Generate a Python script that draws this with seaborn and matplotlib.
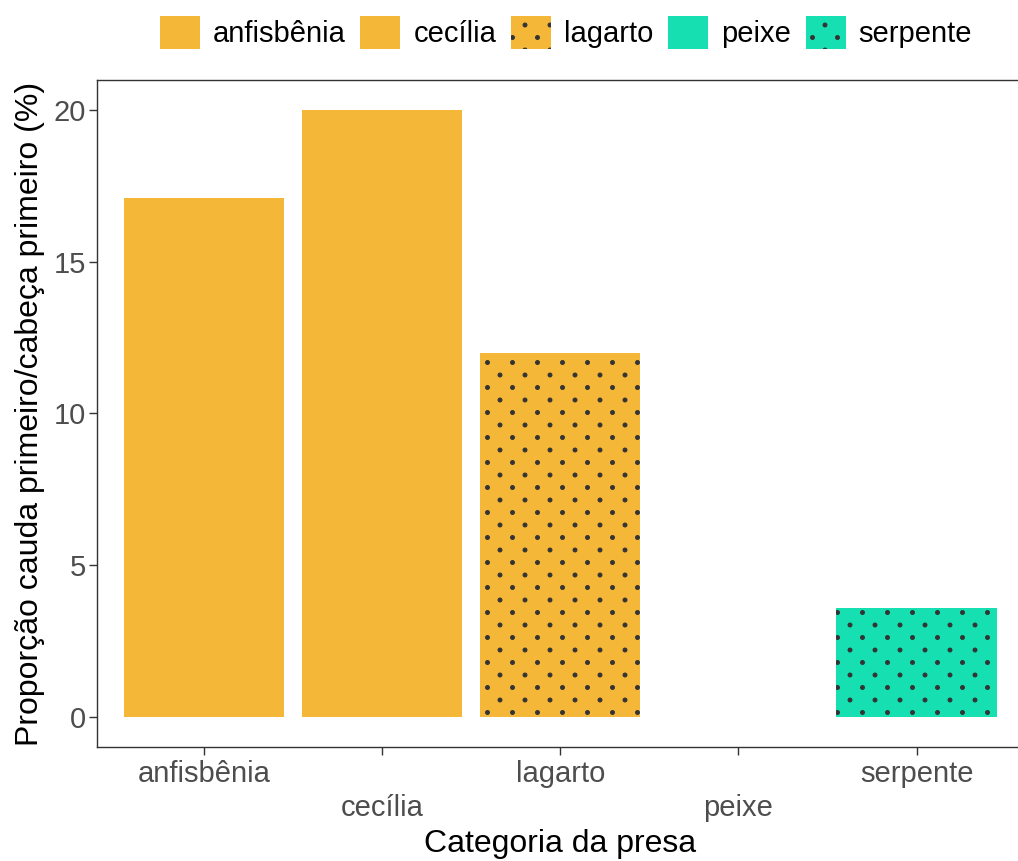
import matplotlib
matplotlib.use("Agg")
import matplotlib.pyplot as plt
import matplotlib.patches as mpatches
from matplotlib import hatch as mhatch
from matplotlib.path import Path
import numpy as np
import pandas as pd
import seaborn as sns

# data
categorias = ["anfisbênia", "cecília", "lagarto", "peixe", "serpente"]
proporcao = [17.1, 20.0, 12.0, 0.0, 3.6]
cores = ["#F5B738", "#F5B738", "#F5B738", "#16E0B2", "#16E0B2"]
pontilhado = [False, False, True, False, True]


class PontosAlternados(mhatch.HatchPatternBase):
    """Dot texture like ggpattern's 'circle': sparse columns, rows offset by half."""
    n_cols = 4
    n_rows = 8
    raio = 0.019

    def __init__(self, hatch, density):
        self.ativo = "." in hatch
        circ = Path.unit_circle()
        self.shape_vertices = circ.vertices
        self.shape_codes = circ.codes
        n_shapes = (self.n_rows // 2 + 1) * (self.n_cols + 1) + (self.n_rows // 2) * self.n_cols
        self.num_vertices = n_shapes * len(self.shape_vertices) if self.ativo else 0

    def set_vertices_and_codes(self, vertices, codes):
        verts = self.shape_vertices * self.raio
        n = len(verts)
        k = 0
        for r in range(self.n_rows + 1):
            y = r / self.n_rows
            if r % 2 == 0:
                xs = np.linspace(0, 1, self.n_cols + 1)
            else:
                xs = np.linspace(0.5 / self.n_cols, 1 - 0.5 / self.n_cols, self.n_cols)
            for x in xs:
                vertices[k:k + n] = verts + (x, y)
                codes[k:k + n] = self.shape_codes
                k += n


mhatch._hatch_types = [
    PontosAlternados if t is mhatch.SmallFilledCircles else t for t in mhatch._hatch_types
]

df = pd.DataFrame({"categoria": categorias, "proporcao": proporcao})

sns.set_theme(style="white")
plt.rcParams["font.family"] = ["Liberation Sans", "DejaVu Sans"]
plt.rcParams["hatch.linewidth"] = 0.8

fig = plt.figure(figsize=(10.18, 8.61), dpi=100)
ax = fig.add_axes([0.0953, 0.1324, 0.91, 0.7747])

sns.barplot(
    data=df, x="categoria", y="proporcao", hue="categoria",
    palette=dict(zip(categorias, cores)), width=0.9, legend=False,
    saturation=1, ax=ax,
)

for patch, cat in zip(ax.patches, categorias):
    if pontilhado[categorias.index(cat)]:
        patch.set_hatch(".")
        patch.set_edgecolor("#333333")
    patch.set_linewidth(0)

ax.set_xlim(-0.6, 4.6)
ax.set_ylim(-1, 21)
ax.set_yticks([0, 5, 10, 15, 20])
ax.set_xticks(range(len(categorias)))
ax.set_xticklabels([c if i % 2 == 0 else "\n" + c for i, c in enumerate(categorias)],
                   linespacing=1.3)

for s in ax.spines.values():
    s.set_color("#333333")
    s.set_linewidth(1.0)
ax.tick_params(axis="both", length=6, width=1, color="#333333", direction="out",
               labelsize=21, labelcolor="#4D4D4D")
ax.tick_params(axis="x", pad=3, bottom=True)
ax.tick_params(axis="y", pad=2, left=True)

ax.set_xlabel("Categoria da presa", fontsize=23, color="black", labelpad=5)
ax.set_ylabel("Proporção cauda primeiro/cabeça primeiro (%)", fontsize=23,
              color="black", labelpad=6)

handles = [
    mpatches.Patch(facecolor=c, edgecolor="#333333" if p else c,
                   hatch="." if p else None, linewidth=0)
    for c, p in zip(cores, pontilhado)
]
fig.legend(handles, categorias, loc="center", bbox_to_anchor=(0.556, 0.962),
           ncol=5, frameon=False, fontsize=21, labelcolor="black",
           handlelength=1.37, handleheight=1.37, handletextpad=0.45,
           columnspacing=0.5)

fig.savefig("out.png", dpi=100)
